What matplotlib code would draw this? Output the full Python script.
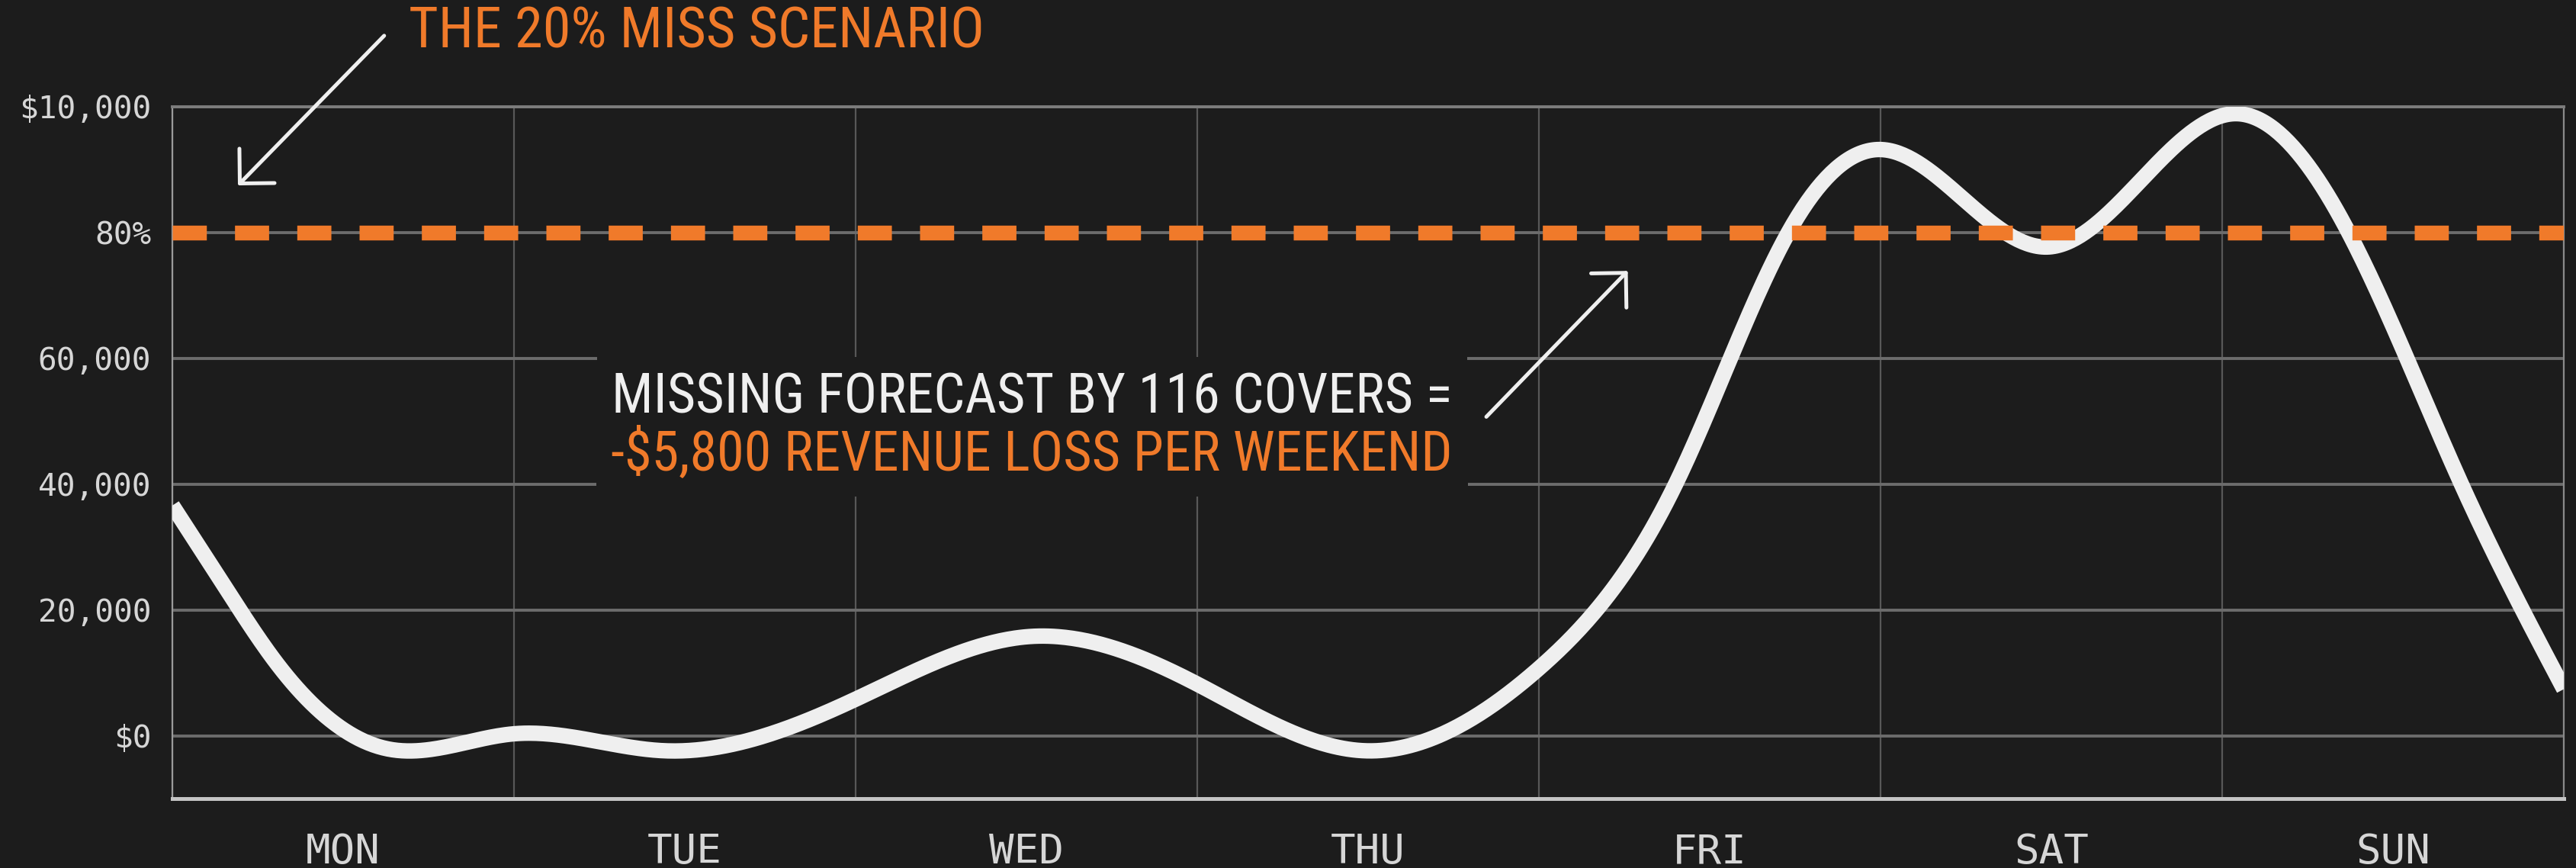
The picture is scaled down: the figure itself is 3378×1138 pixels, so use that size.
import matplotlib
matplotlib.use("Agg")
import matplotlib.pyplot as plt
from matplotlib import font_manager
import numpy as np

# datos
dias = ["MON", "TUE", "WED", "THU", "FRI", "SAT", "SUN"]
yticks = [0, 20, 40, 60, 80, 100]
ytick_labels = ["$0", "20,000", "40,000", "60,000", "80%", "$10,000"]

curva_x = [0.0, 0.15, 0.3, 0.63, 1.0, 1.44, 2.0, 2.52, 3.0, 3.49, 4.0,
           4.4, 4.73, 5.0, 5.49, 6.04, 6.37, 6.7, 7.0]
curva_y = [36.6, 24.0, 11.9, -2.1, 0.3, -2.4, 5.8, 15.8, 8.2, -2.4, 10.7,
           40.0, 80.0, 93.2, 77.7, 98.9, 80.0, 40.0, 7.4]

meta = 80

titulo = "THE 20% MISS SCENARIO"
nota_1 = "MISSING FORECAST BY 116 COVERS ="
nota_2 = "-$5,800 REVENUE LOSS PER WEEKEND"

FONDO = "#1c1c1c"
NARANJA = "#f07a2a"
BLANCO = "#efefef"


def spline_natural(x, y, xs):
    x = np.asarray(x, float)
    y = np.asarray(y, float)
    n = len(x)
    h = np.diff(x)
    A = np.zeros((n, n))
    b = np.zeros(n)
    A[0, 0] = A[-1, -1] = 1
    for i in range(1, n - 1):
        A[i, i - 1] = h[i - 1]
        A[i, i] = 2 * (h[i - 1] + h[i])
        A[i, i + 1] = h[i]
        b[i] = 6 * ((y[i + 1] - y[i]) / h[i] - (y[i] - y[i - 1]) / h[i - 1])
    M = np.linalg.solve(A, b)
    i = np.clip(np.searchsorted(x, xs) - 1, 0, n - 2)
    t0 = xs - x[i]
    t1 = x[i + 1] - xs
    hi = h[i]
    return (M[i] * t1**3 / (6 * hi) + M[i + 1] * t0**3 / (6 * hi)
            + (y[i] / hi - M[i] * hi / 6) * t1
            + (y[i + 1] / hi - M[i + 1] * hi / 6) * t0)


nombres = {f.name for f in font_manager.fontManager.ttflist}
FUENTE = next((f for f in ["Liberation Sans Narrow", "Roboto Condensed", "Roboto"]
               if f in nombres), "DejaVu Sans")
escala = 1.0 if "Narrow" in FUENTE or "Condensed" in FUENTE else 0.86

fig = plt.figure(figsize=(16.89, 5.69), dpi=200, facecolor=FONDO)
ax = fig.add_axes([0.0669, 0.080, 0.9284, 0.797])
ax.set_facecolor(FONDO)

xs = np.linspace(curva_x[0], curva_x[-1], 1000)
ax.plot(xs, spline_natural(curva_x, curva_y, xs), color=BLANCO, lw=7.3,
        solid_capstyle="butt", zorder=3)
ax.axhline(meta, color=NARANJA, lw=7, dashes=(2.3, 1.9), zorder=4)

ax.set_xlim(0, 7)
ax.set_ylim(-10, 100)
ax.set_xticks(np.arange(len(dias)) + 0.5, dias)
ax.set_xticks(np.arange(len(dias) + 1), minor=True)
ax.set_yticks(yticks, ytick_labels)
ax.grid(which="minor", axis="x", color="#585858", lw=0.8)
ax.grid(which="major", axis="y", color="#6c6c6c", lw=1.4)
ax.grid(which="major", axis="x", visible=False)
ax.tick_params(which="both", length=0)
ax.tick_params(axis="y", pad=10, labelsize=14.8, labelcolor="#d6d6d6")
ax.tick_params(axis="x", pad=16, labelsize=19.5, labelcolor="#d6d6d6")
for lab in ax.get_xticklabels() + ax.get_yticklabels():
    lab.set_family("DejaVu Sans Mono")

ax.spines["bottom"].set_color("#c4c4c4")
ax.spines["bottom"].set_linewidth(1.8)
ax.spines["left"].set_color("#9a9a9a")
ax.spines["left"].set_linewidth(0.8)
ax.spines["right"].set_color("#8a8a8a")
ax.spines["right"].set_linewidth(0.8)
ax.spines["top"].set_color("#7c7c7c")
ax.spines["top"].set_linewidth(1.4)

# anotaciones
ax.text(0.692, 111.9, titulo, color=NARANJA, fontsize=26.8 * escala,
        family=FUENTE, ha="left", va="center", clip_on=False)
ax.annotate("", xy=(0.192, 87.5), xytext=(0.62, 111.3), annotation_clip=False,
            arrowprops=dict(arrowstyle="->,head_length=0.58,head_width=0.58",
                            color=BLANCO, lw=1.8, mutation_scale=20,
                            shrinkA=0, shrinkB=0))

caja = dict(facecolor=FONDO, edgecolor="none", pad=7)
ax.text(2.516, 53.7, nota_1, color=BLANCO, fontsize=26 * escala, family=FUENTE,
        ha="center", va="center", bbox=caja, zorder=5)
ax.text(2.516, 44.6, nota_2, color=NARANJA, fontsize=26 * escala, family=FUENTE,
        ha="center", va="center", bbox=caja, zorder=5)
ax.annotate("", xy=(4.26, 73.9), xytext=(3.846, 50.7),
            arrowprops=dict(arrowstyle="->,head_length=0.58,head_width=0.58",
                            color=BLANCO, lw=1.8, mutation_scale=20,
                            shrinkA=0, shrinkB=0), zorder=5)

fig.savefig("out.png", dpi=200, facecolor=FONDO)
